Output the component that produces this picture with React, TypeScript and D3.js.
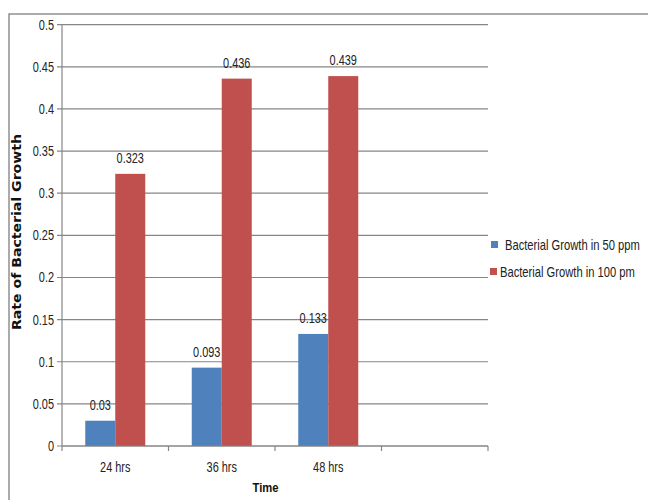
import React from "react";
import * as d3 from "d3";

const categories = ["24 hrs", "36 hrs", "48 hrs", ""];
const series50 = [0.03, 0.093, 0.133, null];
const series100 = [0.323, 0.436, 0.439, null];
const seriesNames = ["Bacterial Growth in 50 ppm", "Bacterial Growth in 100 pm"];
const seriesColors = ["#4F81BD", "#C0504D"];
const yTicks = [0, 0.05, 0.1, 0.15, 0.2, 0.25, 0.3, 0.35, 0.4, 0.45, 0.5];
const yLabels = ["0", "0.05", "0.1", "0.15", "0.2", "0.25", "0.3", "0.35", "0.4", "0.45", "0.5"];
const valueLabels50 = ["0.03", "0.093", "0.133"];
const valueLabels100 = ["0.323", "0.436", "0.439"];

const FONT = "'Liberation Sans', Arial, sans-serif";
const SX = 0.78;

function T({ x, y, children, anchor = "start", size = 14, weight = "normal", fill = "#222", sx = SX }: any) {
  return (
    <text transform={`translate(${x},${y}) scale(${sx},1)`} textAnchor={anchor} fontSize={size} fontWeight={weight} fill={fill} dy="0.35em">
      {children}
    </text>
  );
}

export default function App() {
  const W = 648, H = 500;
  const left = 62, right = 488, top = 24.7, bottom = 446;
  const x = d3.scaleBand().domain(categories.map((c, i) => String(i))).range([left, right]).paddingInner(0).paddingOuter(0);
  const y = d3.scaleLinear().domain([0, 0.5]).range([bottom, top]);
  const bw = x.bandwidth();
  const barW = 30;
  const series = [series50, series100];
  const vlabels = [valueLabels50, valueLabels100];
  return (
    <svg width={W} height={H} style={{ position: "absolute", left: 0, top: 0 }} fontFamily={FONT}>
      <rect x={0} y={0} width={W} height={H} fill="#fff" />
      <rect x={9} y={14} width={W + 20} height={H + 20} fill="none" stroke="#7f7f7f" strokeWidth={1.3} />
      {yTicks.map((t, i) => (
        <g key={i}>
          <line x1={left - 5} x2={right} y1={y(t)} y2={y(t)} stroke="#868686" strokeWidth={1.2} />
          <T x={left - 8} y={y(t)} anchor="end">{yLabels[i]}</T>
        </g>
      ))}
      <line x1={left} x2={left} y1={top} y2={bottom} stroke="#868686" strokeWidth={1.2} />
      {categories.map((c, i) => {
        const x0 = x(String(i))!;
        return (
          <g key={i}>
            <line x1={x0} x2={x0} y1={bottom} y2={bottom + 5} stroke="#868686" strokeWidth={1.2} />
            {i === categories.length - 1 && (
              <line x1={x0 + bw} x2={x0 + bw} y1={bottom} y2={bottom + 5} stroke="#868686" strokeWidth={1.2} />
            )}
            <T x={x0 + bw / 2} y={467} anchor="middle">{c}</T>
          </g>
        );
      })}
      {series.map((s, si) =>
        s.map((v, i) => {
          if (v == null) return null;
          const cx = x(String(i))! + bw / 2;
          const bx = cx - barW + si * barW;
          return (
            <g key={si + "-" + i}>
              <rect x={bx} y={y(v)} width={barW} height={bottom - y(v)} fill={seriesColors[si]} />
              <T x={bx + barW / 2} y={y(v) - 16} anchor="middle">{vlabels[si][i]}</T>
            </g>
          );
        })
      )}
      <line x1={left} x2={right} y1={bottom} y2={bottom} stroke="#868686" strokeWidth={1.2} />
      <text transform={`translate(21,232) rotate(-90)`} textAnchor="middle" fontSize={12} fontWeight="bold" fill="#111" fontFamily="'DejaVu Sans', sans-serif" textLength={196} lengthAdjust="spacingAndGlyphs">Rate of Bacterial Growth</text>
      <text x={265.5} y={492} textAnchor="middle" fontSize={13} fontWeight="bold" fill="#111" textLength={26} lengthAdjust="spacingAndGlyphs">Time</text>
      <rect x={491} y={241} width={7} height={7} fill={seriesColors[0]} />
      <T x={505} y={245} sx={0.8}>{seriesNames[0]}</T>
      <rect x={490} y={268} width={7} height={7} fill={seriesColors[1]} />
      <T x={500} y={272} sx={0.8}>{seriesNames[1]}</T>
    </svg>
  );
}
